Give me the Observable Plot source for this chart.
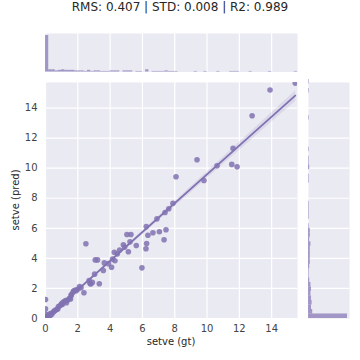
<!DOCTYPE html>
<html>
<head>
<meta charset="utf-8">
<script src="https://cdn.jsdelivr.net/npm/d3@7"></script>
<script src="https://cdn.jsdelivr.net/npm/@observablehq/plot@0.6"></script>
<style>
  html, body { margin: 0; padding: 0; background: #fff; }
  #wrap { position: relative; width: 360px; height: 360px; overflow: hidden; font-family: "DejaVu Sans", sans-serif; }
  #wrap svg { position: absolute; left: 0; top: 0; background: transparent; }
  .lbl { position: absolute; color: #262626; white-space: nowrap; font-family: "DejaVu Sans", sans-serif; }
</style>
</head>
<body>
<div id="wrap"></div>
<script>
const titleText = "RMS: 0.407 | STD: 0.008 | R2: 0.989";
const xLabel = "setve (gt)";
const yLabel = "setve (pred)";
const xTicks = [0, 2, 4, 6, 8, 10, 12, 14];
const yTicks = [0, 2, 4, 6, 8, 10, 12, 14];

// many samples sit exactly at the origin (zero-inflated data)
const zerosCount = 60;
const gtRest = [
  0,0,0,0.05,0.1,0.15,0.2,0.25,0.3,0.35,0.4,0.5,0.55,0.6,0.7,0.76,0.8,0.9,0.97,1.0,
  1.05,1.1,1.2,1.25,1.3,1.4,1.49,1.59,1.55,1.6,1.7,1.75,1.85,1.9,2.0,2.11,2.2,2.38,2.5,2.7,
  2.75,2.8,2.9,3.04,3.08,3.22,3.33,3.58,3.64,3.9,4.09,4.15,4.3,4.26,4.45,4.59,4.82,4.9,5.04,5.13,
  5.23,5.29,5.62,5.97,6.22,6.26,6.24,6.34,6.65,6.9,7.05,7.34,7.46,7.4,7.63,7.89,8.08,9.38,9.81,10.62,
  11.53,11.86,11.61,12.79,13.9,15.46
];
const predRest = [
  1.26,0.64,0.3,0.1,0.05,0.2,0.15,0.3,0.2,0.35,0.3,0.45,0.5,0.55,0.6,0.64,0.8,0.85,0.91,1.0,
  0.95,1.1,1.15,1.2,1.05,1.25,1.35,1.53,1.3,1.6,1.75,1.85,1.9,1.85,1.95,2.13,2.05,1.71,4.97,2.53,
  2.35,2.3,2.4,2.95,3.9,3.9,2.31,3.19,3.7,3.65,3.41,3.95,3.84,4.41,4.3,4.55,4.9,4.75,5.59,4.44,
  5.1,5.59,4.86,3.37,4.64,4.99,6.12,5.54,5.7,6.63,5.77,5.24,5.9,7.05,7.3,7.67,9.43,10.56,9.18,10.16,
  10.25,10.09,11.33,13.49,15.2,15.66
];
const gt = new Array(zerosCount).fill(0).concat(gtRest);
const pred = new Array(zerosCount).fill(0).concat(predRest);

const data = gt.map((x, i) => ({x, y: pred[i]}));
const purple = "#8172B2";
const bg = "#EAEAF2";
const xDomain = [0, 15.6];
const yDomain = [0, 15.7];
const font = {fontFamily: "DejaVu Sans, sans-serif", fontSize: "10px", color: "#444", background: "transparent", overflow: "visible"};

const mainChart = Plot.plot({
  width: 360, height: 360,
  marginLeft: 45, marginRight: 63, marginTop: 82, marginBottom: 42,
  style: font,
  x: {domain: xDomain, label: null, axis: null},
  y: {domain: yDomain, label: null, axis: null},
  marks: [
    Plot.frame({fill: bg, stroke: null}),
    Plot.gridX(xTicks, {stroke: "white", strokeOpacity: 1, strokeWidth: 1.2}),
    Plot.gridY(yTicks, {stroke: "white", strokeOpacity: 1, strokeWidth: 1.2}),
    Plot.axisX(xTicks, {tickSize: 0, tickPadding: 6, label: null, fill: "#444"}),
    Plot.axisY(yTicks, {tickSize: 0, tickPadding: 8, label: null, fill: "#444"}),
    Plot.linearRegressionY(data, {x: "x", y: "y", stroke: purple, fill: purple, fillOpacity: 0.15, strokeWidth: 1.8, ci: 0.95, clip: true}),
    Plot.dot(data, {x: "x", y: "y", r: 2.8, fill: purple, fillOpacity: 0.85, stroke: null, clip: true})
  ]
});

const topChart = Plot.plot({
  width: 360, height: 82,
  marginLeft: 45, marginRight: 63, marginTop: 33, marginBottom: 10.5,
  style: font,
  x: {domain: xDomain, axis: null},
  y: {axis: null, insetTop: 2},
  marks: [
    Plot.frame({fill: bg, stroke: null}),
    Plot.gridX(xTicks.slice(1), {stroke: "white", strokeOpacity: 1, strokeWidth: 1.2}),
    Plot.rectY(data, Plot.binX({y: "count"}, {x: "x", thresholds: d3.range(0, 15.8, 0.2), fill: purple, fillOpacity: 0.7, inset: 0}))
  ]
});

const rightChart = Plot.plot({
  width: 360, height: 360,
  marginLeft: 308, marginRight: 11, marginTop: 82, marginBottom: 42,
  style: font,
  y: {domain: yDomain, axis: null},
  x: {axis: null, insetRight: 2},
  marks: [
    Plot.frame({fill: bg, stroke: null}),
    Plot.gridY(yTicks.slice(1), {stroke: "white", strokeOpacity: 1, strokeWidth: 1.2}),
    Plot.rectX(data, Plot.binY({x: "count"}, {y: "y", thresholds: d3.range(0, 16, 0.3), fill: purple, fillOpacity: 0.7, inset: 0}))
  ]
});

const wrap = document.getElementById("wrap");
wrap.appendChild(mainChart);
wrap.appendChild(topChart);
wrap.appendChild(rightChart);

function addLabel(text, css) {
  const d = document.createElement("div");
  d.className = "lbl";
  d.textContent = text;
  Object.assign(d.style, css);
  wrap.appendChild(d);
  return d;
}
addLabel(titleText, {left: "0px", width: "360px", textAlign: "center", top: "0px", fontSize: "12px", lineHeight: "14px"});
addLabel(xLabel, {left: "45px", width: "252px", textAlign: "center", top: "336px", fontSize: "10px", lineHeight: "12px"});
addLabel(yLabel, {left: "16px", top: "200px", fontSize: "10px", lineHeight: "12px", transform: "translate(-50%, -50%) rotate(-90deg)"});
</script>
</body>
</html>
